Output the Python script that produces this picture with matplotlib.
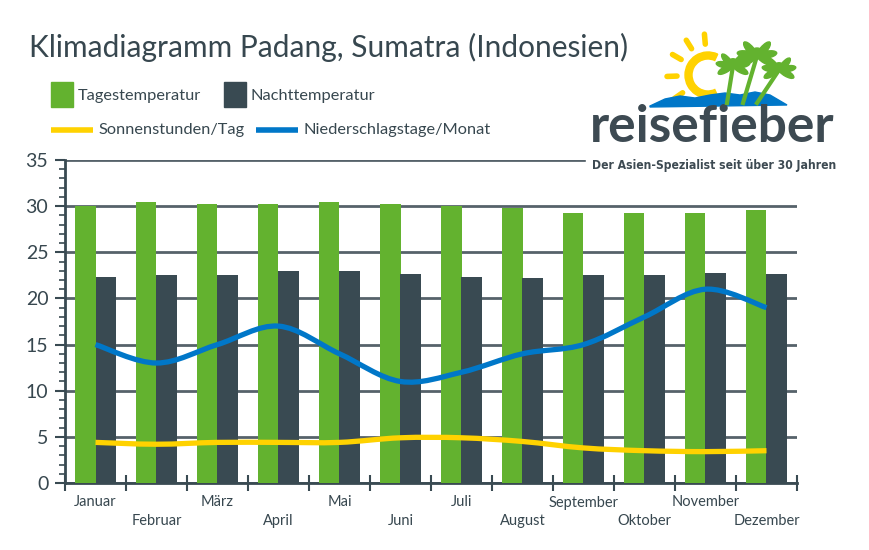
import numpy as np
import matplotlib
matplotlib.use("Agg")
import matplotlib.pyplot as plt
from matplotlib.path import Path
from matplotlib.patches import PathPatch, Rectangle, Wedge, Ellipse, Polygon

months = ["Januar", "Februar", "März", "April", "Mai", "Juni",
          "Juli", "August", "September", "Oktober", "November", "Dezember"]
day_temp = [30.0, 30.5, 30.2, 30.2, 30.5, 30.2, 30.0, 29.8, 29.3, 29.3, 29.3, 29.6]
night_temp = [22.3, 22.5, 22.5, 23.0, 23.0, 22.6, 22.3, 22.2, 22.5, 22.5, 22.8, 22.6]
sun_hours = [4.4, 4.2, 4.4, 4.4, 4.4, 4.9, 4.9, 4.5, 3.8, 3.5, 3.4, 3.5]
rain_days = [15, 13, 15, 17, 14, 11, 12, 14, 15, 18, 21, 19]

GREEN = "#63b22f"
DARK = "#394a52"
YELLOW = "#ffd200"
BLUE = "#0077c8"
TEXT = "#37474f"
GRID = "#56626a"

plt.rcParams["font.family"] = ["Lato", "DejaVu Sans"]


def smooth_path(xs, ys):
    # Catmull-Rom curve through the data points, drawn as cubic Bezier segments
    pts = np.column_stack([xs, ys]).astype(float)
    ext = np.vstack([pts[0], pts, pts[-1]])
    verts = [pts[0]]
    codes = [Path.MOVETO]
    for i in range(1, len(ext) - 2):
        p0, p1, p2, p3 = ext[i - 1], ext[i], ext[i + 1], ext[i + 2]
        verts += [p1 + (p2 - p0) / 6, p2 - (p3 - p1) / 6, p2]
        codes += [Path.CURVE4] * 3
    return Path(verts, codes)


fig = plt.figure(figsize=(8.7, 5.5), dpi=100)
ax = fig.add_axes([65 / 870, 1 - 483 / 550, 732 / 870, 323 / 550])

x = np.arange(len(months))
w = 0.344
ax.bar(x - w / 2, day_temp, width=w, color=GREEN, zorder=3)
ax.bar(x + w / 2, night_temp, width=w, color=DARK, zorder=3)

for vals, col in [(rain_days, BLUE), (sun_hours, YELLOW)]:
    ax.add_patch(PathPatch(smooth_path(x, vals), fill=False, edgecolor=col,
                           linewidth=3.8, capstyle="butt", zorder=4))

ax.set_xlim(-0.5, 11.5)
ax.set_ylim(0, 35)
ax.set_yticks(np.arange(0, 36, 5))
ax.set_yticks(np.arange(0, 36, 1), minor=True)
ax.yaxis.grid(True, which="major", color=GRID, linewidth=2, zorder=1)
ax.set_axisbelow(True)

ax.set_xticks(np.arange(-0.5, 12, 1))
ax.set_xticklabels([])
ax.set_xticks(x, minor=True)
ax.set_xticklabels([m if i % 2 == 0 else "\n" + m for i, m in enumerate(months)],
                   minor=True, fontsize=10.5, color=TEXT, linespacing=1.45)
ax.tick_params(axis="x", which="major", direction="inout", length=12, width=1.5, color=DARK)
ax.tick_params(axis="x", which="minor", length=0, pad=9)
ax.tick_params(axis="y", which="major", length=7, width=1.5, color=DARK,
               labelsize=14, labelcolor=TEXT, pad=5)
ax.tick_params(axis="y", which="minor", length=4, width=1.2, color=DARK)

for side in ["top", "right"]:
    ax.spines[side].set_visible(False)
for side in ["left", "bottom"]:
    ax.spines[side].set_color(DARK)
    ax.spines[side].set_linewidth(2)

# overlay in pixel coordinates for title, legend and logo
ov = fig.add_axes([0, 0, 1, 1], zorder=5)
ov.set_xlim(0, 870)
ov.set_ylim(550, 0)
ov.axis("off")
ov.patch.set_alpha(0)

ov.add_patch(Rectangle((586, 0), 284, 182, color="white", zorder=1))

ov.text(29, 47, "Klimadiagramm Padang, Sumatra (Indonesien)", fontsize=21.5,
        color=TEXT, va="center", ha="left")

ov.add_patch(Rectangle((51, 82), 22, 25, color=GREEN))
ov.text(78, 96, "Tagestemperatur", fontsize=11.8, color=TEXT, va="center")
ov.add_patch(Rectangle((224, 82), 22, 25, color=DARK))
ov.text(251, 96, "Nachttemperatur", fontsize=11.8, color=TEXT, va="center")
ov.plot([51, 93], [130, 130], color=YELLOW, linewidth=4, solid_capstyle="butt")
ov.text(99, 130, "Sonnenstunden/Tag", fontsize=11.8, color=TEXT, va="center")
ov.plot([256, 298], [130, 130], color=BLUE, linewidth=4, solid_capstyle="butt")
ov.text(304, 130, "Niederschlagstage/Monat", fontsize=11.8, color=TEXT, va="center")

# logo: sun, sea, palms
ov.add_patch(Wedge((708, 75), 23, 65, 295, width=7, color=YELLOW, zorder=2))
for ang in [95, 122, 150, 182, 215]:
    a = np.deg2rad(ang)
    ov.plot([708 + 31 * np.cos(a), 708 + 41 * np.cos(a)],
            [75 - 31 * np.sin(a), 75 - 41 * np.sin(a)],
            color=YELLOW, linewidth=4, solid_capstyle="round", zorder=2)
wave = [(650, 106), (665, 99), (680, 96), (695, 98), (710, 95), (725, 93),
        (740, 95), (755, 92), (770, 95), (787, 105), (650, 107)]
ov.add_patch(Polygon(wave, closed=True, color=BLUE, zorder=3))
for bx, tx, ty, s in [(727, 733, 66, 0.85), (743, 757, 56, 1.0), (757, 779, 70, 0.85)]:
    ov.plot([bx, tx], [103, ty], color=GREEN, linewidth=3, zorder=4)
    for ang in [-30, 10, 50, 130, 170, 210]:
        a = np.deg2rad(ang)
        ov.add_patch(Ellipse((tx + 10 * s * np.cos(a), ty - 8 * s * np.sin(a)),
                             20 * s, 7 * s, angle=-ang, color=GREEN, zorder=4))
    ov.add_patch(Ellipse((tx, ty - 3), 12 * s, 10 * s, color=GREEN, zorder=4))

ov.text(590, 127, "reisefieber", fontsize=37, fontweight="bold", color="#3d4a52",
        va="center", ha="left", zorder=3)
ov.text(592, 165, "Der Asien-Spezialist seit über 30 Jahren", fontsize=8.7,
        fontweight="bold", color="#3d4a52", va="center", ha="left",
        family=["DejaVu Sans"], fontstretch="condensed", zorder=3)

fig.savefig("out.png", dpi=100)
